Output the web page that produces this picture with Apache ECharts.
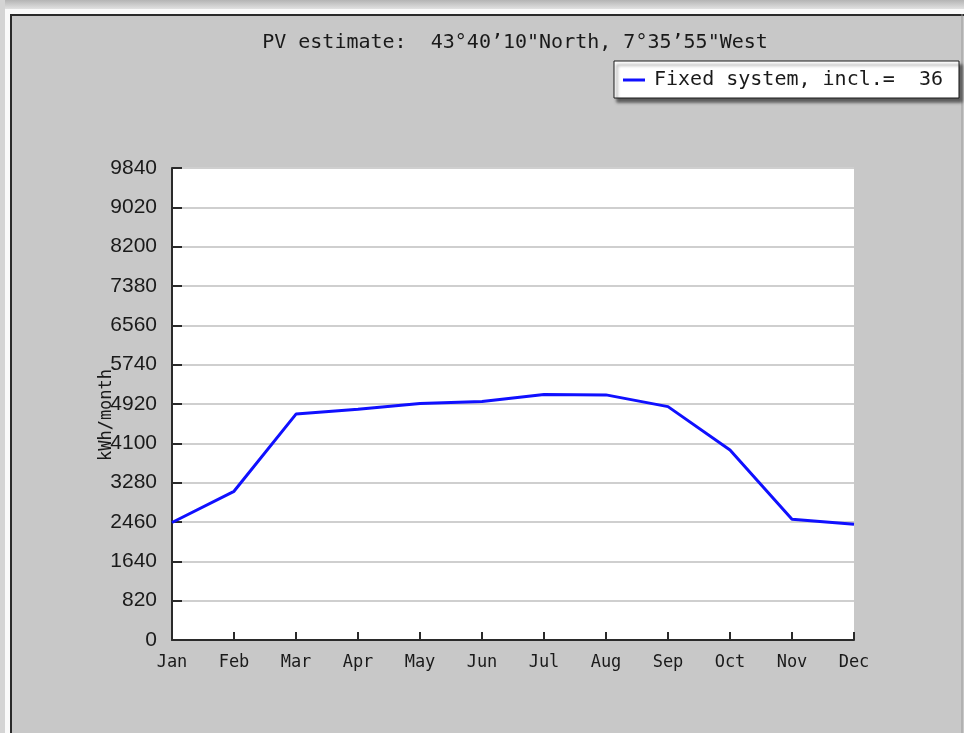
<!DOCTYPE html>
<html>
<head>
<meta charset="utf-8">
<style>
  html, body { margin: 0; padding: 0; background: #c8c8c8; }
  #chart { width: 964px; height: 733px; }
</style>
<script src="https://cdn.jsdelivr.net/npm/echarts@6/dist/echarts.min.js"></script>
</head>
<body>
<div id="chart"></div>
<script>
// Monthly PV output (kWh/month) for a fixed system
const months = ['Jan', 'Feb', 'Mar', 'Apr', 'May', 'Jun', 'Jul', 'Aug', 'Sep', 'Oct', 'Nov', 'Dec'];
const pvOutput = [2450, 3100, 4710, 4810, 4930, 4970, 5120, 5110, 4865, 3960, 2515, 2415];
const yTicks = [0, 820, 1640, 2460, 3280, 4100, 4920, 5740, 6560, 7380, 8200, 9020, 9840];
const seriesName = 'Fixed system, incl.=  36';
const titleText = 'PV estimate:  43°40’10"North, 7°35’55"West';

const mono = '"DejaVu Sans Mono", "Liberation Mono", monospace';
const sans = '"Liberation Sans", Arial, sans-serif';

const chart = echarts.init(document.getElementById('chart'), null, { renderer: 'canvas' });

chart.setOption({
  backgroundColor: '#c8c8c8',
  animation: false,
  graphic: [
    // outer shading strip along the top
    { type: 'rect', z: -10, shape: { x: 0, y: 0, width: 964, height: 10 },
      style: { fill: new echarts.graphic.LinearGradient(0, 0, 0, 1, [
        { offset: 0, color: '#b4b4b4' }, { offset: 1, color: '#e6e6e6' }]) } },
    { type: 'rect', z: -10, shape: { x: 0, y: 0, width: 5, height: 733 },
      style: { fill: '#d4d4d4' } },
    // white bevel
    { type: 'rect', z: -9, shape: { x: 5, y: 9, width: 959, height: 5 },
      style: { fill: '#fafafa' } },
    { type: 'rect', z: -9, shape: { x: 5, y: 9, width: 5, height: 724 },
      style: { fill: '#fafafa' } },
    // dark panel frame
    { type: 'line', z: -8, shape: { x1: 10, y1: 15, x2: 964, y2: 15 },
      style: { stroke: '#2a2a2a', lineWidth: 2 } },
    { type: 'line', z: -8, shape: { x1: 11, y1: 14, x2: 11, y2: 733 },
      style: { stroke: '#2a2a2a', lineWidth: 2 } },
    { type: 'line', z: -8, shape: { x1: 962, y1: 14, x2: 962, y2: 733 },
      style: { stroke: '#9a9a9a', lineWidth: 1 } }
  ],
  title: {
    text: titleText,
    left: 510,
    textAlign: 'center',
    top: 28,
    textStyle: { fontFamily: mono, fontSize: 20, fontWeight: 'normal', color: '#1a1a1a' }
  },
  legend: {
    data: [seriesName],
    left: 614,
    top: 61,
    orient: 'horizontal',
    backgroundColor: '#ffffff',
    borderColor: '#1a1a1a',
    borderWidth: 1,
    borderRadius: 0,
    padding: [9, 16, 8, 9],
    itemWidth: 22,
    itemHeight: 3,
    itemGap: 0,
    icon: 'rect',
    shadowColor: 'rgba(0,0,0,0.55)',
    shadowBlur: 3,
    shadowOffsetX: 3,
    shadowOffsetY: 4,
    textStyle: { fontFamily: mono, fontSize: 20, color: '#1a1a1a', padding: [0, 0, 0, 4] }
  },
  grid: { left: 172, right: 110, top: 168, bottom: 93, backgroundColor: '#ffffff', show: true, borderWidth: 0 },
  xAxis: {
    type: 'category',
    data: months,
    boundaryGap: false,
    axisLine: { show: true, lineStyle: { color: '#2a2a2a', width: 2 } },
    axisTick: { show: true, inside: true, length: 8, alignWithLabel: true, lineStyle: { color: '#2a2a2a', width: 2 } },
    axisLabel: { fontFamily: mono, fontSize: 17, color: '#1a1a1a', margin: 14, interval: 0 },
    splitLine: { show: false }
  },
  yAxis: {
    type: 'value',
    min: 0,
    max: yTicks[yTicks.length - 1],
    interval: yTicks[1] - yTicks[0],
    name: 'kWh/month',
    nameLocation: 'middle',
    nameGap: 57,
    nameMoveOverlap: false,
    nameTextStyle: { fontFamily: mono, fontSize: 17, color: '#1a1a1a', padding: [0, 0, 0, -22] },
    axisLine: { show: true, lineStyle: { color: '#2a2a2a', width: 2 } },
    axisTick: { show: true, inside: true, length: 10, lineStyle: { color: '#2a2a2a', width: 2 } },
    axisLabel: { fontFamily: sans, fontSize: 21, color: '#1a1a1a', margin: 15,
      formatter: function (v) { return String(v); } },
    splitLine: { show: true, lineStyle: { color: '#cfcfcf', width: 2 } }
  },
  series: [{
    name: seriesName,
    type: 'line',
    data: pvOutput,
    symbol: 'none',
    smooth: false,
    lineStyle: { color: '#1010ff', width: 3 },
    itemStyle: { color: '#1010ff' }
  }]
});
</script>
</body>
</html>
